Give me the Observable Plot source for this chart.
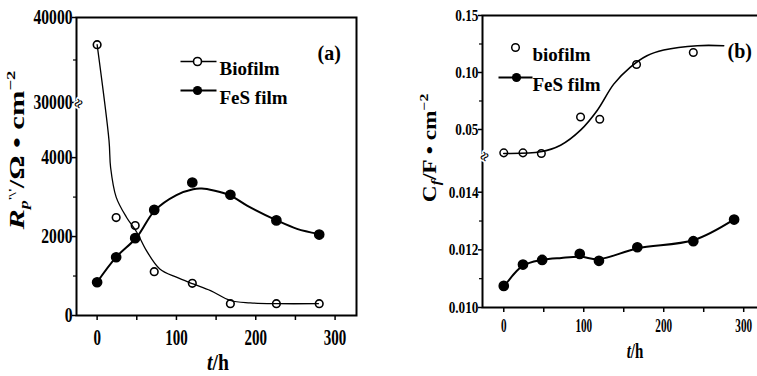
<!DOCTYPE html>
<html><head><meta charset="utf-8">
<script src="https://cdn.jsdelivr.net/npm/d3@7"></script>
<script src="https://cdn.jsdelivr.net/npm/@observablehq/plot@0.6"></script>
<style>
html,body{margin:0;padding:0;background:#fff;overflow:hidden;width:757px;height:376px}
#wrap{position:relative;width:757px;height:376px;overflow:hidden;background:#fff}
#a,#b{position:absolute;top:0}
#a{left:0;width:378px}
#b{left:380px;width:390px}
#a svg,#b svg{max-width:none}
</style></head><body><div id="wrap"><div id="a"></div><div id="b"></div></div>
<script>
// ---------- Panel (a): polarization resistance ----------
const hoursA = [0, 24, 48, 72, 120, 168, 226, 280];
const rpBiofilm = [36800, 2480, 2280, 1110, 815, 300, 300, 300];
const rpFeS = [843, 1476, 1960, 2676, 3370, 3060, 2410, 2050];
// fitted curves
const fitHoursBioA = [0, 15, 17, 24, 37, 50, 62, 79, 100, 121, 143, 168, 193, 227, 279];
const fitRpBioA = [36800, 4430, 3750, 3000, 2490, 2110, 1650, 1180, 970, 800, 630, 380, 320, 300, 300];
const fitHoursFeSA = [0, 24, 50, 72.6, 100, 121, 132, 147, 168, 189, 227, 252, 279];
const fitRpFeSA = [843, 1477, 1983, 2658, 3050, 3200, 3215, 3165, 3038, 2785, 2405, 2195, 2068];
const yTicksA = [0, 2000, 4000, 30000, 40000];
const yMinorA = [1000, 3000, 35000];
const xTicksA = [0, 100, 200, 300];
const xMinorA = [50, 150, 250];
const breakA = [5270, 29410];

// ---------- Panel (b): capacitance ----------
const hoursBioB = [0, 24, 47, 96, 120, 166, 237];
const cfBiofilm = [0.0295, 0.0295, 0.029, 0.061, 0.059, 0.107, 0.1175];
const hoursFeSB = [0, 24, 48, 95, 119, 167, 237, 288];
const cfFeS = [0.01075, 0.01149, 0.01165, 0.01186, 0.01162, 0.01209, 0.0123, 0.01305];
const fitHoursBioB = [0, 46, 71, 96, 117, 137.5, 158, 179, 200, 242, 275];
const fitCfBioB = [0.029, 0.0304, 0.0362, 0.0494, 0.0669, 0.0898, 0.1045, 0.1147, 0.1197, 0.1235, 0.1235];
const fitHoursFeSB = [1, 24, 48, 72, 96, 119, 167, 237.5, 287.5];
const fitCfFeSB = [0.01075, 0.01145, 0.01165, 0.01172, 0.01176, 0.01168, 0.01205, 0.01234, 0.01305];
const yTicksB = [0.010, 0.012, 0.014, 0.05, 0.10, 0.15];
const yMinorB = [0.011, 0.013, 0.075, 0.125];
const xTicksB = [0, 100, 200, 300];
const xMinorB = [50, 150, 250];
const breakB = [0.0151, 0.0228];

const zip = (xs, ys) => xs.map((x, i) => ({x, y: ys[i]}));
const lineSymbol = (half) => ({draw(ctx) { ctx.moveTo(-half, 0); ctx.lineTo(half, 0); }});
const FONT = '"Liberation Serif","DejaVu Serif",serif';
const fmtB = d => d >= 0.05 ? d.toFixed(2) : d.toFixed(3);

// ---------- Build (a) ----------
const plotA = Plot.plot({
  width: 378, height: 376,
  marginLeft: 76, marginRight: 22, marginTop: 17, marginBottom: 61,
  style: {fontFamily: FONT, fontSize: "15px", fontWeight: "bold", background: "transparent", color: "black", maxWidth: "none"},
  x: {domain: [-26, 327]},
  y: {type: "linear", domain: [0, breakA[0], breakA[1], 40000], range: [315, 107, 107, 17]},
  marks: [
    Plot.axisY({ticks: yTicksA, tickSize: 4, tickPadding: 0, tickFormat: d => String(d), label: null, strokeWidth: 1.5, fontSize: 20}),
    Plot.axisY({ticks: yMinorA, tickSize: 3, tickFormat: () => "", label: null, strokeWidth: 1.2}),
    Plot.axisX({ticks: xTicksA, tickSize: 5, tickPadding: 9, tickFormat: d => String(d), label: null, strokeWidth: 1.5, fontSize: 20}),
    Plot.axisX({ticks: xMinorA, tickSize: 5, tickFormat: () => "", label: null, strokeWidth: 1.5}),
    Plot.frame({stroke: "black", strokeWidth: 2}),
    Plot.text([breakA[1]], {y: d => d, frameAnchor: "left", text: () => "≈", rotate: -60, fontSize: 16, fill: "black", stroke: "white", strokeWidth: 3}),
    Plot.line(zip(fitHoursBioA, fitRpBioA), {x: "x", y: "y", curve: "catmull-rom", stroke: "black", strokeWidth: 1.3}),
    Plot.line(zip(fitHoursFeSA, fitRpFeSA), {x: "x", y: "y", curve: "catmull-rom", stroke: "black", strokeWidth: 2}),
    Plot.dot(zip(hoursA, rpBiofilm), {x: "x", y: "y", r: 3.8, stroke: "black", strokeWidth: 1.6, fill: "none"}),
    Plot.dot(zip(hoursA, rpFeS), {x: "x", y: "y", r: 4.6, fill: "black", stroke: "black"}),
    // legend
    Plot.dot([0], {frameAnchor: "top-left", dx: 122, dy: 44, symbol: lineSymbol(18), r: 5, stroke: "black", strokeWidth: 1.3}),
    Plot.dot([0], {frameAnchor: "top-left", dx: 121, dy: 44, r: 4, stroke: "black", strokeWidth: 1.6, fill: "white"}),
    Plot.text(["Biofilm"], {frameAnchor: "top-left", dx: 143, dy: 44, text: d => d, textAnchor: "start", fontSize: 19, fontWeight: "bold", ariaLabel: "legend text"}),
    Plot.dot([0], {frameAnchor: "top-left", dx: 122, dy: 73, symbol: lineSymbol(18), r: 5, stroke: "black", strokeWidth: 2}),
    Plot.dot([0], {frameAnchor: "top-left", dx: 121, dy: 73, r: 4.6, fill: "black"}),
    Plot.text(["FeS film"], {frameAnchor: "top-left", dx: 143, dy: 73, text: d => d, textAnchor: "start", fontSize: 19, fontWeight: "bold", ariaLabel: "legend text"}),
    Plot.text(["(a)"], {frameAnchor: "top-left", dx: 241, dy: 28, text: d => d, textAnchor: "start", fontSize: 20, fontWeight: "bold"})
  ]
});
document.getElementById("a").appendChild(plotA);

// ---------- Build (b) ----------
const plotB = Plot.plot({
  width: 390, height: 376,
  marginLeft: 102, marginRight: 10, marginTop: 15, marginBottom: 69,
  style: {fontFamily: FONT, fontSize: "14px", fontWeight: "bold", background: "transparent", color: "black", maxWidth: "none"},
  x: {domain: [-26.6, 321]},
  y: {type: "linear", domain: [0.010, breakB[0], breakB[1], 0.15], range: [307, 160, 160, 15]},
  marks: [
    Plot.axisY({ticks: yTicksB, tickSize: 4, tickPadding: 0, tickFormat: fmtB, label: null, strokeWidth: 1.5, fontSize: 17}),
    Plot.axisY({ticks: yMinorB, tickSize: 3, tickFormat: () => "", label: null, strokeWidth: 1.2}),
    Plot.axisX({ticks: xTicksB, tickSize: 5, tickPadding: 6, tickFormat: d => String(d), label: null, strokeWidth: 1.5, fontSize: 18}),
    Plot.axisX({ticks: xMinorB, tickSize: 5, tickFormat: () => "", label: null, strokeWidth: 1.5}),
    Plot.frame({stroke: "black", strokeWidth: 2}),
    Plot.text([breakB[1]], {y: d => d, frameAnchor: "left", text: () => "≈", rotate: -60, fontSize: 16, fill: "black", stroke: "white", strokeWidth: 3}),
    Plot.line(zip(fitHoursBioB, fitCfBioB), {x: "x", y: "y", curve: "catmull-rom", stroke: "black", strokeWidth: 1.6}),
    Plot.line(zip(fitHoursFeSB, fitCfFeSB), {x: "x", y: "y", curve: "catmull-rom", stroke: "black", strokeWidth: 2}),
    Plot.dot(zip(hoursBioB, cfBiofilm), {x: "x", y: "y", r: 3.8, stroke: "black", strokeWidth: 1.5, fill: "none"}),
    Plot.dot(zip(hoursFeSB, cfFeS), {x: "x", y: "y", r: 4.6, fill: "black", stroke: "black"}),
    // legend
    Plot.dot([0], {frameAnchor: "top-left", dx: 33, dy: 32, r: 3.8, stroke: "black", strokeWidth: 1.5, fill: "white"}),
    Plot.text(["biofilm"], {frameAnchor: "top-left", dx: 50, dy: 32, text: d => d, textAnchor: "start", fontSize: 19, fontWeight: "bold", ariaLabel: "legend text"}),
    Plot.dot([0], {frameAnchor: "top-left", dx: 33, dy: 62, symbol: lineSymbol(17), r: 5, stroke: "black", strokeWidth: 2}),
    Plot.dot([0], {frameAnchor: "top-left", dx: 34, dy: 62, r: 4.6, fill: "black"}),
    Plot.text(["FeS film"], {frameAnchor: "top-left", dx: 50, dy: 62, text: d => d, textAnchor: "start", fontSize: 19, fontWeight: "bold", ariaLabel: "legend text"}),
    Plot.text(["(b)"], {frameAnchor: "top-left", dx: 245, dy: 28, text: d => d, textAnchor: "start", fontSize: 20, fontWeight: "bold"})
  ]
});
document.getElementById("b").appendChild(plotB);

// ---------- condensed type, like the scanned figure ----------
function squeeze(svg, selector, sx, sy, anchor) {
  d3.select(svg).selectAll(selector).each(function() {
    const b = this.getBBox();
    if (!b.width) return;
    const ox = anchor === "end" ? b.x + b.width : anchor === "start" ? b.x : b.x + b.width / 2;
    const oy = b.y + b.height / 2;
    const t = this.getAttribute("transform") || "";
    this.setAttribute("transform", `${t} translate(${ox},${oy}) scale(${sx},${sy}) translate(${-ox},${-oy})`);
  });
}
squeeze(plotA, 'g[aria-label="y-axis tick label"] text', 0.78, 1.05, "end");
squeeze(plotA, 'g[aria-label="x-axis tick label"] text', 0.75, 1.2, "middle");
squeeze(plotA, 'g[aria-label="legend text"] text', 0.8, 1, "start");
squeeze(plotB, 'g[aria-label="y-axis tick label"] text', 0.78, 1, "end");
squeeze(plotB, 'g[aria-label="x-axis tick label"] text', 0.62, 1.1, "middle");
squeeze(plotB, 'g[aria-label="legend text"] text', 0.8, 1, "start");

// ---------- Rich-text axis titles ----------
function richLabel(svg, x, y, rotate, size, sx, parts) {
  const t = d3.select(svg).append("text")
    .attr("transform", `translate(${x},${y})` + (rotate ? ` rotate(${rotate})` : "") + ` scale(${sx},1)`)
    .attr("text-anchor", "middle")
    .attr("font-family", FONT).attr("font-weight", "bold").attr("font-size", size)
    .attr("fill", "black");
  for (const p of parts) {
    const s = t.append("tspan").text(p.t);
    if (p.italic) s.attr("font-style", "italic");
    if (p.size) s.attr("font-size", p.size);
    if (p.dy) s.attr("dy", p.dy);
  }
}
richLabel(plotA, 24, 150, -90, 21, 1.45, [
  {t: "R", italic: true},
  {t: "p", italic: true, size: 12, dy: 4},
  {t: "'\\'", size: 10, dy: -12},
  {t: "/Ω • cm", dy: 8},
  {t: "−2", size: 13, dy: -9}
]);
richLabel(plotA, 218, 370, 0, 24, 0.82, [
  {t: "t", italic: true},
  {t: "/h"}
]);
richLabel(plotB, 56, 148, -90, 18, 1.3, [
  {t: "C"},
  {t: "f", italic: true, size: 12, dy: 4},
  {t: "/F • cm", dy: -4},
  {t: "−2", size: 12, dy: -8}
]);
richLabel(plotB, 255, 358, 0, 20, 0.75, [
  {t: "t", italic: true},
  {t: "/h"}
]);
</script></body></html>
